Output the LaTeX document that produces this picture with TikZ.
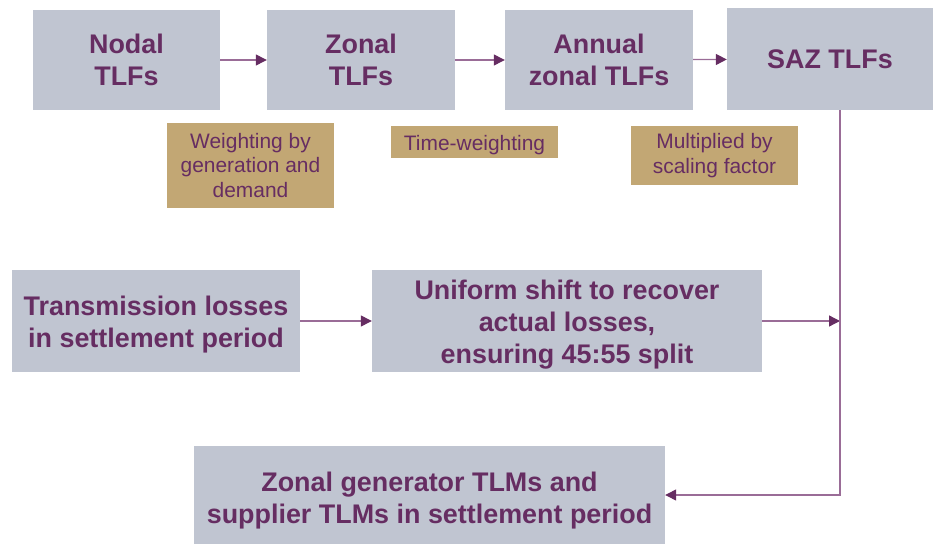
\documentclass[tikz,border=0pt]{standalone}
\usepackage{fontspec}
\setmainfont{Liberation Sans}
\usetikzlibrary{arrows.meta}
\definecolor{boxgrey}{HTML}{C0C5D1}
\definecolor{boxtan}{HTML}{C2A774}
\definecolor{ink}{HTML}{662D62}
\definecolor{wire}{HTML}{9A6C97}
\tikzstyle{stage} = [fill=boxgrey, text=ink, align=center, inner sep=0pt,
    font=\fontsize{27}{32}\selectfont\bfseries]
\tikzstyle{note} = [fill=boxtan, text=ink, align=center, inner sep=0pt,
    font=\fontsize{21}{25}\selectfont]
\newcommand{\lift}[1]{\rule{0pt}{#1}}
\tikzset{>={Triangle[length=11bp,width=11bp,color=ink]}}
\tikzstyle{flow} = [draw=wire, line width=1.3bp, ->]

\begin{document}
\begin{tikzpicture}[x=1bp,y=-1bp]
    \useasboundingbox (0,0) rectangle (934,544);
    %stages
    \node[stage, minimum width=187bp, minimum height=100bp] (nodal) at (126.5,60) {Nodal\\TLFs};
    \node[stage, minimum width=188bp, minimum height=100bp] (zonal) at (361,60) {Zonal\\TLFs};
    \node[stage, minimum width=188bp, minimum height=100bp] (annual) at (599,60) {Annual\\zonal TLFs};
    \node[stage, minimum width=206bp, minimum height=102bp] (saz) at (830,59) {SAZ TLFs};
    \node[stage, minimum width=288bp, minimum height=102bp] (losses) at (156,321) {\lift{27bp}Transmission losses\\in settlement period};
    \node[stage, minimum width=390bp, minimum height=102bp] (shift) at (567,321) {\lift{27bp}Uniform shift to recover\\actual losses,\\ensuring 45:55 split};
    \node[stage, minimum width=471bp, minimum height=98bp] (tlms) at (429.5,495) {\lift{31bp}Zonal generator TLMs and\\supplier TLMs in settlement period};
    %notes
    \node[note, minimum width=167bp, minimum height=85bp] (weighting) at (250.5,165.5) {Weighting by\\generation and\\demand};
    \node[note, minimum width=167bp, minimum height=32bp] (timew) at (474.5,142) {\lift{22bp}Time-weighting};
    \node[note, minimum width=167bp, minimum height=59bp] (scaling) at (714.5,155.5) {Multiplied by\\scaling factor};
    %connectors
    \coordinate (bend) at (840,496);
    \draw[flow] (nodal) -- (zonal);
    \draw[flow] (zonal) -- (annual);
    \draw[flow] (annual) -- (saz);
    \draw[flow] (losses) -- (shift);
    \draw[flow] (shift.east) -- (shift.east -| bend);
    \draw[flow] (saz.south -| bend) |- (tlms.east);
\end{tikzpicture}
\end{document}
